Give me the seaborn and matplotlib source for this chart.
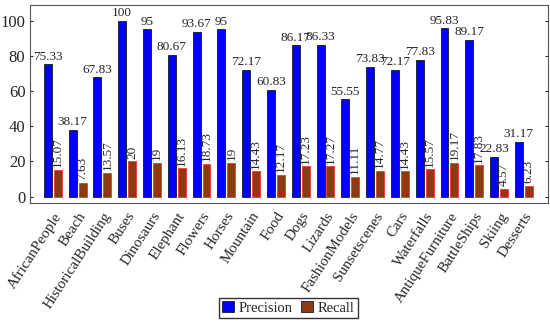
import pandas as pd
import matplotlib.pyplot as plt
import seaborn as sns

categories = ["AfricanPeople", "Beach", "HistoricalBuilding", "Buses", "Dinosaurs",
              "Elephant", "Flowers", "Horses", "Mountain", "Food", "Dogs", "Lizards",
              "FashionModels", "Sunsetscenes", "Cars", "Waterfalls", "AntiqueFurniture",
              "BattleShips", "Skiing", "Desserts"]
precision = [75.33, 38.17, 67.83, 100, 95, 80.67, 93.67, 95, 72.17, 60.83, 86.17, 86.33,
             55.55, 73.83, 72.17, 77.83, 95.83, 89.17, 22.83, 31.17]
recall = [15.07, 7.63, 13.57, 20, 19, 16.13, 18.73, 19, 14.43, 12.17, 17.23, 17.27,
          11.11, 14.77, 14.43, 15.57, 19.17, 17.83, 4.57, 6.23]
precision_lbl = ["75.33", "38.17", "67.83", "100", "95", "80.67", "93.67", "95", "72.17",
                 "60.83", "86.17", "86.33", "55.55", "73.83", "72.17", "77.83", "95.83",
                 "89.17", "22.83", "31.17"]
recall_lbl = ["15.07", "7.63", "13.57", "20", "19", "16.13", "18.73", "19", "14.43", "12.17",
              "17.23", "17.27", "11.11", "14.77", "14.43", "15.57", "19.17", "17.83", "4.57",
              "6.23"]

df = pd.DataFrame({
    "Category": categories * 2,
    "Value": precision + recall,
    "Metric": ["Precision"] * len(categories) + ["Recall"] * len(categories),
})

sns.set_style("ticks")
plt.rcParams["font.family"] = ["Liberation Serif", "DejaVu Serif"]

fig = plt.figure(figsize=(5.5, 3.23), dpi=100)
ax = fig.add_axes([0.055, 0.372, 0.942, 0.613])

sns.barplot(data=df, x="Category", y="Value", hue="Metric",
            palette={"Precision": "#0000ff", "Recall": "#8b3a12"}, saturation=1,
            width=0.8, gap=0.2, edgecolor="black", linewidth=0.5,
            legend=True, ax=ax)

for p in ax.containers[1].patches:
    p.set_edgecolor("#ff2020")

ax.bar_label(ax.containers[0], labels=precision_lbl, padding=1, fontsize=9.5)
ax.bar_label(ax.containers[1], labels=recall_lbl, padding=2, fontsize=9.5, rotation=90)

ax.set_ylim(-3.5, 109)
ax.set_xlim(-0.91, 19.99)
ax.set_yticks([0, 20, 40, 60, 80, 100])
ax.tick_params(axis="y", labelsize=12, length=2, right=True, direction="in")
ax.tick_params(axis="x", labelsize=10.8, length=0, pad=5)
ax.set_xticks(range(len(categories)))
ax.set_xticklabels(categories, rotation=57, ha="right", rotation_mode="anchor")
ax.set_xlabel("")
ax.set_ylabel("")
for s in ax.spines.values():
    s.set_visible(True)
    s.set_color("#555555")
    s.set_linewidth(0.8)

ax.legend(loc="lower center", bbox_to_anchor=(0.524, 0.015), bbox_transform=fig.transFigure,
          borderaxespad=0, ncol=2, frameon=True, fancybox=False, edgecolor="black",
          fontsize=10.5, handlelength=0.8, handletextpad=0.3, columnspacing=0.6,
          borderpad=0.25)

fig.savefig("out.png", dpi=100)
